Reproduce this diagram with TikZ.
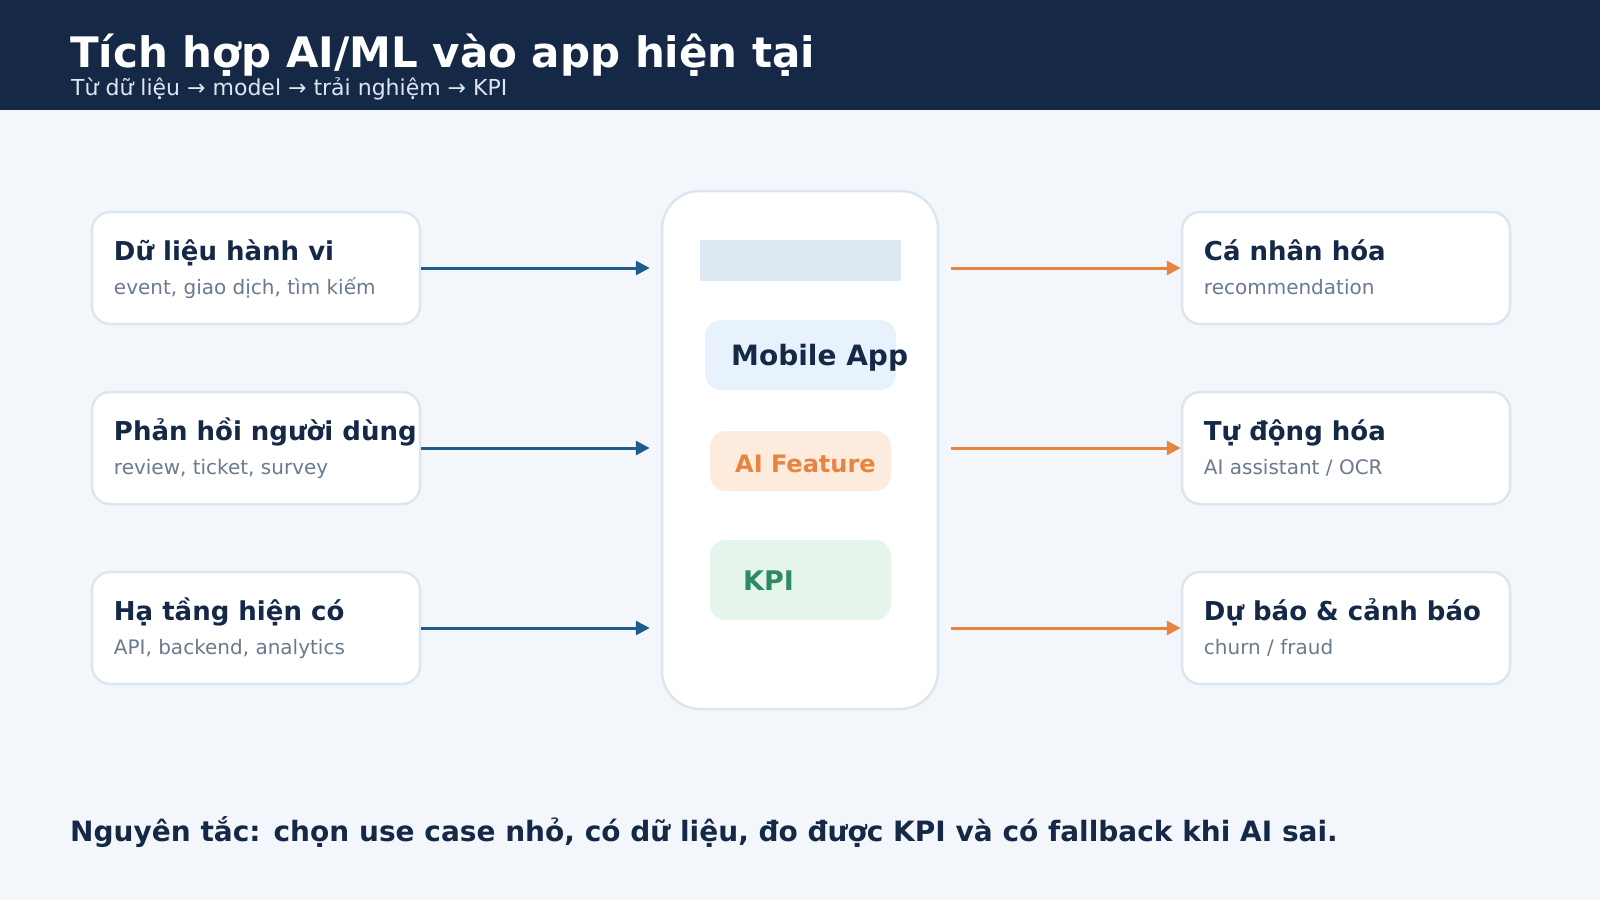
\documentclass[tikz,border=0pt]{standalone}
\usepackage{fontspec}
\setmainfont{DejaVu Sans}
\usepackage{xcolor}
\usetikzlibrary{arrows.meta,positioning,calc}
\definecolor{navy}{RGB}{21,41,71}
\definecolor{pagebg}{RGB}{243,247,251}
\definecolor{cardline}{RGB}{220,230,240}
\definecolor{slate}{RGB}{107,122,143}
\definecolor{subhead}{RGB}{220,229,240}
\definecolor{arrblue}{RGB}{31,92,140}
\definecolor{arrorange}{RGB}{232,132,63}
\definecolor{kpigreen}{RGB}{46,139,96}
\definecolor{barblue}{RGB}{221,232,243}
\definecolor{pillblue}{RGB}{231,242,253}
\definecolor{pillorange}{RGB}{253,236,221}
\definecolor{pillgreen}{RGB}{230,245,236}

\begin{document}
\begin{tikzpicture}[
  x=1pt, y=-1pt,
  node distance=65.5pt and 759.5pt,
  every node/.style={inner sep=0pt},
  card/.style={draw=cardline, line width=2.5pt, fill=white, rounded corners=18pt, minimum width=328pt, minimum height=112pt},
  ctitle/.style={anchor=base west, font=\fontsize{26}{31}\selectfont\bfseries, text=navy},
  csub/.style={anchor=base west, font=\fontsize{20}{24}\selectfont, text=slate},
  pill/.style={rounded corners=16pt},
  inarr/.style={-{Triangle[length=14pt,width=14pt]}, line width=3pt, draw=arrblue, shorten >=11pt},
  outarr/.style={-{Triangle[length=14pt,width=14pt]}, line width=3pt, draw=arrorange, shorten <=12pt}
]
\useasboundingbox (0,0) rectangle (1600,900);
\fill[pagebg] (0,0) rectangle (1600,900);
\fill[navy] (0,0) rectangle (1600,110);

% header
\node[anchor=base west, font=\fontsize{42}{50}\selectfont\bfseries, text=white] (title) at (70,67) {Tích hợp AI/ML vào app hiện tại};
\node[anchor=base west, font=\fontsize{22}{26}\selectfont, text=subhead] (subtitle) at (71,95) {Từ dữ liệu → model → trải nghiệm → KPI};

% phone
\node[draw=cardline, line width=2.5pt, fill=white, rounded corners=38pt, minimum width=276pt, minimum height=518pt] (phone) at (800,450) {};
\node[fill=barblue, minimum width=201pt, minimum height=41pt] (topbar) at (800.5,260.5) {};
\node[pill, fill=pillblue, minimum width=191pt, minimum height=70pt] (apppill) at (800.5,355) {};
\node[anchor=base west, font=\fontsize{28}{34}\selectfont\bfseries, text=navy] (applabel) at (731,365) {Mobile App};
\node[pill, fill=pillorange, minimum width=181pt, minimum height=60pt] (aipill) at (800.5,461) {};
\node[anchor=base west, font=\fontsize{24}{29}\selectfont\bfseries, text=arrorange] (ailabel) at (735,472) {AI Feature};
\node[pill, fill=pillgreen, minimum width=181pt, minimum height=80pt] (kpipill) at (800.5,580) {};
\node[anchor=base west, font=\fontsize{27}{32}\selectfont\bfseries, text=kpigreen] (kpilabel) at (743,590) {KPI};

% inputs
\node[card] (in1) at (256,268) {};
\node[card, below=of in1] (in2) {};
\node[card, below=of in2] (in3) {};
\node[ctitle] (in1t) at ([xshift=23pt, yshift=8pt]in1.west) {Dữ liệu hành vi};
\node[csub] (in1s) at ([xshift=23pt, yshift=-26pt]in1.west) {event, giao dịch, tìm kiếm};
\node[ctitle] (in2t) at ([xshift=23pt, yshift=8pt]in2.west) {Phản hồi người dùng};
\node[csub] (in2s) at ([xshift=23pt, yshift=-26pt]in2.west) {review, ticket, survey};
\node[ctitle] (in3t) at ([xshift=23pt, yshift=8pt]in3.west) {Hạ tầng hiện có};
\node[csub] (in3s) at ([xshift=23pt, yshift=-26pt]in3.west) {API, backend, analytics};

% outputs
\node[card, right=of in1] (out1) {};
\node[card, right=of in2] (out2) {};
\node[card, right=of in3] (out3) {};
\node[ctitle] (out1t) at ([xshift=23pt, yshift=8pt]out1.west) {Cá nhân hóa};
\node[csub] (out1s) at ([xshift=23pt, yshift=-26pt]out1.west) {recommendation};
\node[ctitle] (out2t) at ([xshift=23pt, yshift=8pt]out2.west) {Tự động hóa};
\node[csub] (out2s) at ([xshift=23pt, yshift=-26pt]out2.west) {AI assistant / OCR};
\node[ctitle] (out3t) at ([xshift=23pt, yshift=8pt]out3.west) {Dự báo \& cảnh báo};
\node[csub] (out3s) at ([xshift=23pt, yshift=-26pt]out3.west) {churn / fraud};

% footer
\node[anchor=base west, font=\fontsize{28}{33}\selectfont\bfseries, text=navy] (rule) at (70,841) {Nguyên tắc: chọn use case nhỏ, có dữ liệu, đo được KPI và có fallback khi AI sai.};

\draw[inarr] (in1.east) -- (in1.east -| phone.west);
\draw[inarr] (in2.east) -- (in2.east -| phone.west);
\draw[inarr] (in3.east) -- (in3.east -| phone.west);
\draw[outarr] (out1.west -| phone.east) -- (out1.west);
\draw[outarr] (out2.west -| phone.east) -- (out2.west);
\draw[outarr] (out3.west -| phone.east) -- (out3.west);
\end{tikzpicture}
\end{document}
